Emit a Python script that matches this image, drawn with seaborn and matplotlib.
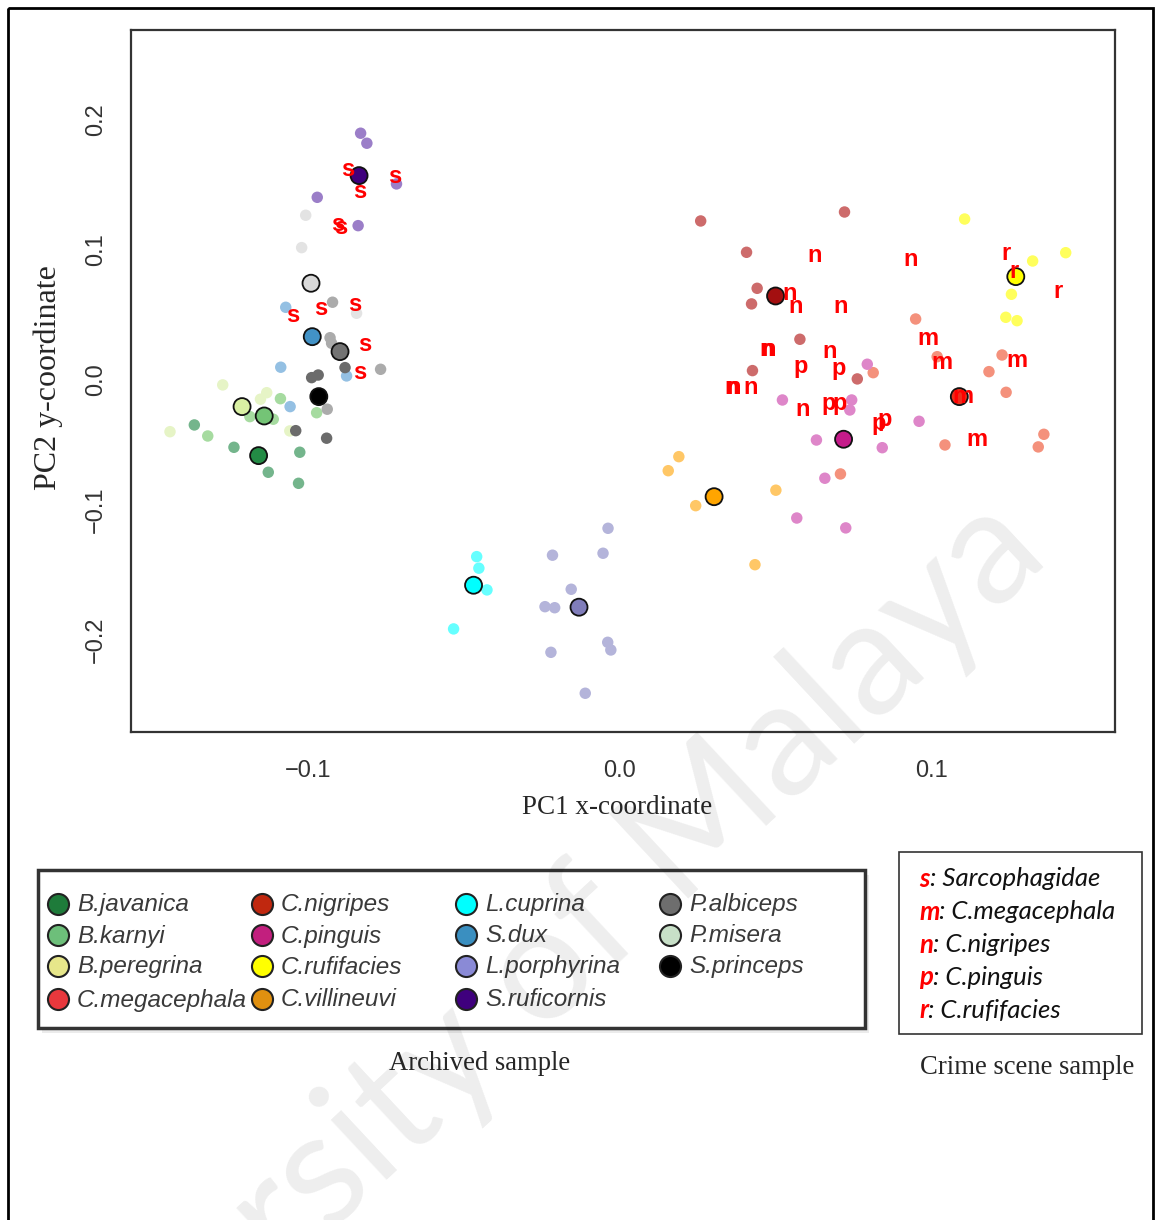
import numpy as np
import pandas as pd
import matplotlib
matplotlib.use("Agg")
import matplotlib.pyplot as plt
import seaborn as sns
from matplotlib.patches import Rectangle

# ---------------- data ----------------
species = ["B.javanica", "B.karnyi", "B.peregrina", "C.megacephala", "C.nigripes",
           "C.pinguis", "C.rufifacies", "C.villineuvi", "L.cuprina", "S.dux",
           "L.porphyrina", "S.ruficornis", "P.albiceps", "P.misera", "S.princeps"]

centroid_x = [-0.1158, -0.1140, -0.1211, 0.1088, 0.0499,
              0.0717, 0.1269, 0.0302, -0.0469, -0.0986,
              -0.0131, -0.0836, -0.0897, -0.0990, -0.0965]
centroid_y = [-0.0582, -0.0277, -0.0205, -0.0128, 0.0646,
              -0.0456, 0.0795, -0.0898, -0.1579, 0.0333,
              -0.1748, 0.1572, 0.0218, 0.0744, -0.0128]

bjav_x = [-0.1364, -0.1237, -0.1026, -0.1127, -0.1030]
bjav_y = [-0.0346, -0.0518, -0.0556, -0.0710, -0.0795]
bkar_x = [-0.1088, -0.0972, -0.1321, -0.1111, -0.1186]
bkar_y = [-0.0144, -0.0252, -0.0431, -0.0302, -0.0282]
bper_x = [-0.1273, -0.1132, -0.1152, -0.1442, -0.1058]
bper_y = [-0.0038, -0.0098, -0.0148, -0.0398, -0.0392]
cmeg_x = [0.0948, 0.1017, 0.0812, 0.1225, 0.1183, 0.1238, 0.1042, 0.1359, 0.1341, 0.0707]
cmeg_y = [0.0469, 0.0179, 0.0056, 0.0192, 0.0064, -0.0095, -0.0500, -0.0418, -0.0515, -0.0723]
cnig_x = [0.0259, 0.0720, 0.0406, 0.0440, 0.0422, 0.0577, 0.0425, 0.0761]
cnig_y = [0.1223, 0.1292, 0.0982, 0.0705, 0.0585, 0.0313, 0.0072, 0.0008]
cpin_x = [0.0793, 0.0521, 0.0743, 0.0737, 0.0959, 0.0630, 0.0841, 0.0657, 0.0567, 0.0724]
cpin_y = [0.0121, -0.0154, -0.0154, -0.0231, -0.0318, -0.0462, -0.0521, -0.0756, -0.1062, -0.1138]
cruf_x = [0.1105, 0.1323, 0.1429, 0.1255, 0.1237, 0.1273]
cruf_y = [0.1238, 0.0915, 0.0979, 0.0659, 0.0482, 0.0456]
cvil_x = [0.0189, 0.0155, 0.0243, 0.0433, 0.0500]
cvil_y = [-0.0590, -0.0698, -0.0967, -0.1421, -0.0848]
lcup_x = [-0.0459, -0.0452, -0.0426, -0.0533]
lcup_y = [-0.1359, -0.1448, -0.1615, -0.1915]
sdux_x = [-0.1071, -0.1087, -0.0876, -0.1057]
sdux_y = [0.0559, 0.0098, 0.0031, -0.0205]
lpor_x = [-0.0038, -0.0216, -0.0054, -0.0156, -0.0240, -0.0209, -0.0039, -0.0029, -0.0221, -0.0111]
lpor_y = [-0.1141, -0.1348, -0.1333, -0.1610, -0.1744, -0.1752, -0.2018, -0.2077, -0.2095, -0.2410]
sruf_x = [-0.0831, -0.0811, -0.0716, -0.0970, -0.0839]
sruf_y = [0.1898, 0.1821, 0.1508, 0.1405, 0.1187]
palb_x = [-0.0921, -0.0929, -0.0924, -0.0767, -0.0938]
palb_y = [0.0598, 0.0325, 0.0282, 0.0082, -0.0225]
pmis_x = [-0.1007, -0.1020, -0.0844]
pmis_y = [0.1267, 0.1018, 0.0513]
spri_x = [-0.0881, -0.0988, -0.0967, -0.1039, -0.0940]
spri_y = [0.0095, 0.0018, 0.0038, -0.0390, -0.0448]

# crime scene samples (letters)
s_x = [-0.0871, -0.0723, -0.0833, -0.0903, -0.0895, -0.1047, -0.0959, -0.0849, -0.0817, -0.0833]
s_y = [0.1621, 0.1564, 0.1448, 0.1192, 0.1175, 0.0492, 0.0546, 0.0577, 0.0269, 0.0056]
m_x = [0.0986, 0.1031, 0.1273, 0.1146, 0.1099]
m_y = [0.0321, 0.0133, 0.0146, -0.0462, -0.0128]
n_x = [0.0623, 0.0933, 0.0545, 0.0563, 0.0706, 0.0469, 0.0476, 0.0673, 0.0358, 0.0365, 0.0419, 0.0586]
n_y = [0.0954, 0.0928, 0.0662, 0.0564, 0.0564, 0.0231, 0.0231, 0.0218, -0.0056, -0.0056, -0.0056, -0.0231]
p_x = [0.0579, 0.0700, 0.0668, 0.0705, 0.0828, 0.0849]
p_y = [0.0102, 0.0090, -0.0179, -0.0179, -0.0333, -0.0308]
r_x = [0.1239, 0.1264, 0.1405]
r_y = [0.0975, 0.0833, 0.0679]

crime_letters = ["s", "m", "n", "p", "r"]
crime_names = ["Sarcophagidae", "C.megacephala", "C.nigripes", "C.pinguis", "C.rufifacies"]

x_ticks = [-0.1, 0.0, 0.1]
x_ticklabels = ["\u22120.1", "0.0", "0.1"]
y_ticks = [-0.2, -0.1, 0.0, 0.1, 0.2]
y_ticklabels = ["\u22120.2", "\u22120.1", "0.0", "0.1", "0.2"]

centroid_colors = ["#238b45", "#74c476", "#d9f0a3", "#ec2f1d", "#a30f10",
                   "#c51b8a", "#ffff00", "#ffa500", "#00ffff", "#4292c6",
                   "#807dba", "#3f007d", "#737373", "#d9d9d9", "#000000"]
sample_colors = ["#74b58c", "#a6dba0", "#e6f4c6", "#f4917c", "#cd6b6b",
                 "#de86c9", "#ffff5c", "#ffc766", "#66ffff", "#94c0e3",
                 "#b4b4da", "#9b7ec8", "#ababab", "#e3e3e3", "#6b6b6b"]
legend_colors = ["#1e7b3a", "#6dbf7a", "#e6e68a", "#e8383d", "#c0280f",
                 "#c21f7e", "#ffff00", "#e09010", "#00ffff", "#3a8fc0",
                 "#8a8ad6", "#3f007d", "#6e6e6e", "#c8e0c8", "#000000"]
legend_order = ["B.javanica", "B.karnyi", "B.peregrina", "C.megacephala",
                "C.nigripes", "C.pinguis", "C.rufifacies", "C.villineuvi",
                "L.cuprina", "S.dux", "L.porphyrina", "S.ruficornis",
                "P.albiceps", "P.misera", "S.princeps"]

# ---------------- frames ----------------
sample_lists = [(bjav_x, bjav_y), (bkar_x, bkar_y), (bper_x, bper_y), (cmeg_x, cmeg_y),
                (cnig_x, cnig_y), (cpin_x, cpin_y), (cruf_x, cruf_y), (cvil_x, cvil_y),
                (lcup_x, lcup_y), (sdux_x, sdux_y), (lpor_x, lpor_y), (sruf_x, sruf_y),
                (palb_x, palb_y), (pmis_x, pmis_y), (spri_x, spri_y)]
rows = []
for sp, (xs, ys) in zip(species, sample_lists):
    for a, b in zip(xs, ys):
        rows.append((a, b, sp))
df_samples = pd.DataFrame(rows, columns=["x", "y", "species"])
df_cent = pd.DataFrame({"x": centroid_x, "y": centroid_y, "species": species})

# ---------------- style ----------------
sns.set_style("white")
plt.rcParams["font.family"] = ["Liberation Sans", "DejaVu Sans"]

W, H = 1155, 1220
fig = plt.figure(figsize=(W / 100, H / 100), dpi=100)
fig.patch.set_facecolor("white")

def fx(px):
    return px / W

def fy(py):
    return 1 - py / H

ax = fig.add_axes([fx(131), fy(732), (1115 - 131) / W, (732 - 30) / H])
ax.set_facecolor("none")

sns.scatterplot(data=df_samples, x="x", y="y", hue="species", hue_order=species,
                palette=dict(zip(species, sample_colors)), s=68, edgecolor="none",
                linewidth=0, legend=False, ax=ax, zorder=2)
sns.scatterplot(data=df_cent, x="x", y="y", hue="species", hue_order=species,
                palette=dict(zip(species, centroid_colors)), s=150, edgecolor="#111111",
                linewidth=1.3, legend=False, ax=ax, zorder=3)

letter_font = ["Liberation Sans", "DejaVu Sans"]
for lab, xs, ys in [("s", s_x, s_y), ("m", m_x, m_y), ("n", n_x, n_y),
                    ("p", p_x, p_y), ("r", r_x, r_y)]:
    for a, b in zip(xs, ys):
        ax.annotate(lab, (a, b), xytext=(0, -4.6), textcoords="offset points",
                    ha="center", va="baseline", color="#ff0000", fontsize=17,
                    fontweight="bold", family=letter_font, zorder=5)

ax.set_xlim(-0.1567, 0.1587)
ax.set_ylim(-0.2708, 0.2692)
ax.set_xticks(x_ticks)
ax.set_xticklabels(x_ticklabels, fontsize=17, color="#333333")
ax.set_yticks(y_ticks)
ax.set_yticklabels(y_ticklabels, fontsize=17, color="#333333", rotation=90, va="center")
ax.tick_params(axis="both", direction="out", length=8.5, width=1.2, color="#222222")
ax.tick_params(axis="x", pad=12)
ax.tick_params(axis="y", pad=9)
ax.set_xlabel("")
ax.set_ylabel("")
for sp in ax.spines.values():
    sp.set_visible(True)
    sp.set_color("#333333")
    sp.set_linewidth(1.6)

# ---------------- overlay (pixel coordinates) ----------------
ov = fig.add_axes([0, 0, 1, 1], zorder=5)
ov.set_xlim(0, W)
ov.set_ylim(H, 0)
ov.axis("off")
ov.patch.set_alpha(0)

serif = ["Liberation Serif", "DejaVu Serif"]
ov.text(617, 807, "PC1 x-coordinate", ha="center", va="center", family=serif, fontsize=19.5)
ov.text(48, 378, "PC2 y-coordinate", ha="center", va="center", family=serif,
        fontsize=23, rotation=90)
ov.text(480, 1063, "Archived sample", ha="center", va="center", family=serif, fontsize=19.2)
ov.text(1027, 1068, "Crime scene sample", ha="center", va="center", family=serif, fontsize=19.2)

# outer frame
ov.add_patch(Rectangle((7.5, 7.5), 1145, 1240, fill=False, edgecolor="black", lw=2.0, clip_on=False))

# archived legend box with shadow
ov.add_patch(Rectangle((42, 875), 827, 158, facecolor="#ebebeb", edgecolor="none"))
ov.add_patch(Rectangle((38, 870), 827, 158, facecolor="white", edgecolor="#333333", lw=2.5))
col_x = [58, 262, 466, 670]
row_y = [904, 935, 966, 999]
for i, sp in enumerate(legend_order):
    c, r = divmod(i, 4)
    col = legend_colors[species.index(sp)]
    ov.scatter([col_x[c]], [row_y[r]], s=230, color=col, edgecolor="#222222",
               linewidth=1.5, zorder=6)
    ov.text(col_x[c] + 19, row_y[r] + 1, sp, ha="left", va="center", style="italic",
            family=["Liberation Sans", "DejaVu Sans"], fontsize=17.5,
            color="#3a3a3a", zorder=6)

# crime scene legend
ov.add_patch(Rectangle((899, 852), 243, 182, facecolor="white", edgecolor="#333333", lw=1.2))
fig.canvas.draw()
rend = fig.canvas.get_renderer()
crime_font = ["Lato", "DejaVu Sans"]
for i, (k, nm) in enumerate(zip(crime_letters, crime_names)):
    yy = 879 + i * 32.8
    t = ov.text(919, yy, k, ha="left", va="center", color="#ff0000", fontweight="bold",
                style="italic", family=crime_font, fontsize=18.5)
    bb = t.get_window_extent(rend)
    ov.text(919 + bb.width, yy, ": " + nm, ha="left", va="center", color="#111111",
            style="italic", family=crime_font, fontsize=18.5)

# watermark (light, drawn over everything like a scanned stamp)
fig.text(fx(1052), fy(560), "University of Malaya", rotation=43, rotation_mode="anchor",
         ha="right", va="baseline", fontsize=116, family=["Lato", "DejaVu Sans"],
         color="black", alpha=0.07, zorder=20)

fig.savefig("out.png", dpi=100, facecolor="white")
